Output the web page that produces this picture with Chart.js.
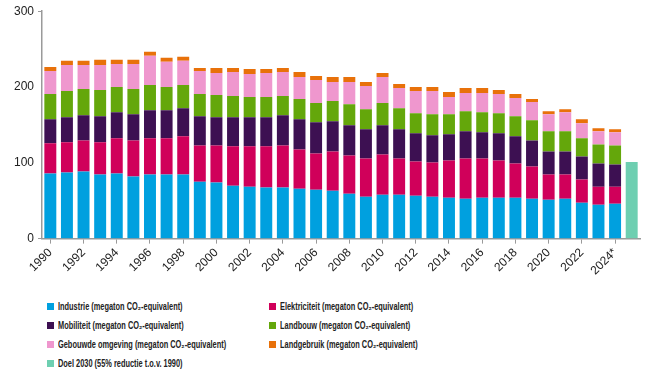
<!DOCTYPE html>
<html>
<head>
<meta charset="utf-8">
<script src="https://cdn.jsdelivr.net/npm/chart.js@4"></script>
<style>
  body { margin: 0; background: #fff; width: 646px; height: 388px; position: relative; overflow: hidden; }
  #wrap { position: absolute; left: 0; top: 0; width: 646px; height: 280px; }
  #legend { position: absolute; left: 0; top: 301px; width: 646px;
    font-family: "Liberation Sans", Arial, sans-serif;
    font-weight: bold; font-size: 10px; color: #222; }
  .item { position: absolute; height: 12px; line-height: 12px; white-space: nowrap; }
  .box { position: absolute; left: 0; top: 2px; width: 7px; height: 7px; }
  .txt { position: absolute; left: 11px; top: 0; transform: scaleX(0.74); transform-origin: 0 50%; }
</style>
</head>
<body>
<div id="wrap"><canvas id="chart"></canvas></div>
<div id="legend"></div>
<script>
const years = ["1990","1991","1992","1993","1994","1995","1996","1997","1998","1999",
  "2000","2001","2002","2003","2004","2005","2006","2007","2008","2009",
  "2010","2011","2012","2013","2014","2015","2016","2017","2018","2019",
  "2020","2021","2022","2023","2024*"];
const labels = years.concat(["Doel 2030"]);

const industrie = [85.8,87.2,88.5,84.5,85.8,81.9,84.5,84.5,84.5,75.2,
  73.9,69.9,68.6,67.3,67.3,65.9,64.6,63.3,59.3,55.3,
  58.0,58.0,56.6,55.3,54.0,52.7,54.0,54.0,54.0,52.7,
  51.3,52.7,47.3,44.7,46.0];
const elektriciteit = [39.9,39.8,41.1,42.5,46.5,47.7,47.8,47.8,50.5,47.8,
  49.1,51.8,53.1,54.4,55.7,51.8,47.8,51.7,50.4,50.5,
  53.0,47.8,45.2,45.1,49.1,53.1,51.8,49.1,45.1,42.4,
  33.2,31.8,30.6,23.9,22.6];
const mobiliteit = [31.8,33.2,33.2,34.5,34.5,34.6,37.2,37.2,37.1,38.5,
  37.2,38.5,38.5,38.5,39.8,39.8,41.1,39.9,39.9,38.4,
  38.6,38.4,37.1,35.9,34.5,35.8,34.5,35.8,35.9,34.5,
  30.5,30.5,30.5,30.5,29.2];
const landbouw = [33.2,34.5,34.5,34.5,33.2,33.1,33.2,30.5,30.6,29.2,
  29.2,27.8,26.5,26.5,25.2,26.6,25.3,26.5,27.8,26.6,
  29.2,27.9,26.6,27.9,26.6,26.5,26.5,26.6,26.5,26.6,
  26.6,26.6,23.9,25.2,25.2];
const gebouwd = [30.5,34.5,31.9,33.2,30.5,33.2,38.5,33.2,31.8,30.5,
  29.2,31.9,30.6,31.9,31.9,29.2,30.5,25.2,29.2,30.5,
  34.5,26.6,29.2,30.5,22.5,23.9,25.2,25.2,23.9,23.9,
  22.6,25.2,19.9,17.3,17.3];
const landgebruik = [5.3,5.3,5.3,6.6,5.3,5.3,5.3,5.3,5.3,4.0,
  6.6,5.3,6.6,5.3,5.3,6.6,5.3,6.7,6.7,5.3,
  5.3,5.3,5.3,5.3,6.7,6.7,6.7,5.3,5.3,4.0,
  3.9,4.0,5.3,4.0,3.9];
const doel2030 = 101;
const yTicks = [0, 100, 200, 300];

// pad the year series with an empty slot for the target bar
const withGap = arr => arr.concat([null]);
const doelData = years.map(() => null).concat([doel2030]);

const series = [
  { label: "Industrie (megaton CO\u2082-equivalent)", data: withGap(industrie), color: "#00A0DF" },
  { label: "Elektriciteit (megaton CO\u2082-equivalent)", data: withGap(elektriciteit), color: "#D0005A" },
  { label: "Mobiliteit (megaton CO\u2082-equivalent)", data: withGap(mobiliteit), color: "#3D1052" },
  { label: "Landbouw (megaton CO\u2082-equivalent)", data: withGap(landbouw), color: "#64A70B" },
  { label: "Gebouwde omgeving (megaton CO\u2082-equivalent)", data: withGap(gebouwd), color: "#EF97CE" },
  { label: "Landgebruik (megaton CO\u2082-equivalent)", data: withGap(landgebruik), color: "#E8710A" },
  { label: "Doel 2030 (55% reductie t.o.v. 1990)", data: doelData, color: "#6ECFB1" }
];

const data = {
  labels: labels,
  datasets: series.map(s => ({
    label: s.label,
    data: s.data,
    backgroundColor: s.color,
    borderWidth: 0,
    categoryPercentage: 1,
    barPercentage: 0.72
  }))
};

const axisColor = "#9a9a9a";
const config = {
  type: "bar",
  data,
  options: {
    responsive: true,
    maintainAspectRatio: false,
    animation: false,
    layout: { padding: { left: 10, right: 6, top: 4, bottom: 0 } },
    plugins: { legend: { display: false }, tooltip: { enabled: false } },
    scales: {
      x: {
        stacked: true,
        grid: {
          offset: false,
          drawOnChartArea: false,
          tickLength: 5,
          color: ctx => (ctx.index % 2 === 0 && ctx.index < years.length) ? axisColor : "rgba(0,0,0,0)"
        },
        border: { display: true, color: axisColor, width: 1.5 },
        ticks: {
          autoSkip: false,
          maxRotation: 45,
          minRotation: 45,
          padding: 2,
          color: "#222",
          font: { family: "'Liberation Sans', Arial, sans-serif", size: 12 },
          callback: (v, i) => (i % 2 === 0 && i < years.length) ? labels[i] : ""
        }
      },
      y: {
        stacked: true,
        min: 0,
        max: 300,
        afterBuildTicks: scale => { scale.ticks = yTicks.map(v => ({ value: v })); },
        grid: {
          drawOnChartArea: false,
          tickLength: 4,
          color: ctx => (ctx.tick && (ctx.tick.value === 0 || ctx.tick.value === 300)) ? axisColor : "rgba(0,0,0,0)"
        },
        border: { display: true, color: axisColor, width: 1.5 },
        ticks: {
          padding: 4,
          color: "#222",
          font: { family: "'Liberation Sans', Arial, sans-serif", size: 12 }
        }
      }
    }
  }
};

const chart = new Chart(document.getElementById("chart"), config);

// legend in two columns, built from the chart's datasets
const legend = document.getElementById("legend");
chart.data.datasets.forEach((ds, i) => {
  const item = document.createElement("div");
  item.className = "item";
  item.style.left = (i % 2 === 0 ? 47 : 269) + "px";
  item.style.top = (Math.floor(i / 2) * 19) + "px";
  const box = document.createElement("span");
  box.className = "box";
  box.style.background = ds.backgroundColor;
  const txt = document.createElement("span");
  txt.className = "txt";
  txt.textContent = ds.label;
  item.appendChild(box);
  item.appendChild(txt);
  legend.appendChild(item);
});
</script>
</body>
</html>
